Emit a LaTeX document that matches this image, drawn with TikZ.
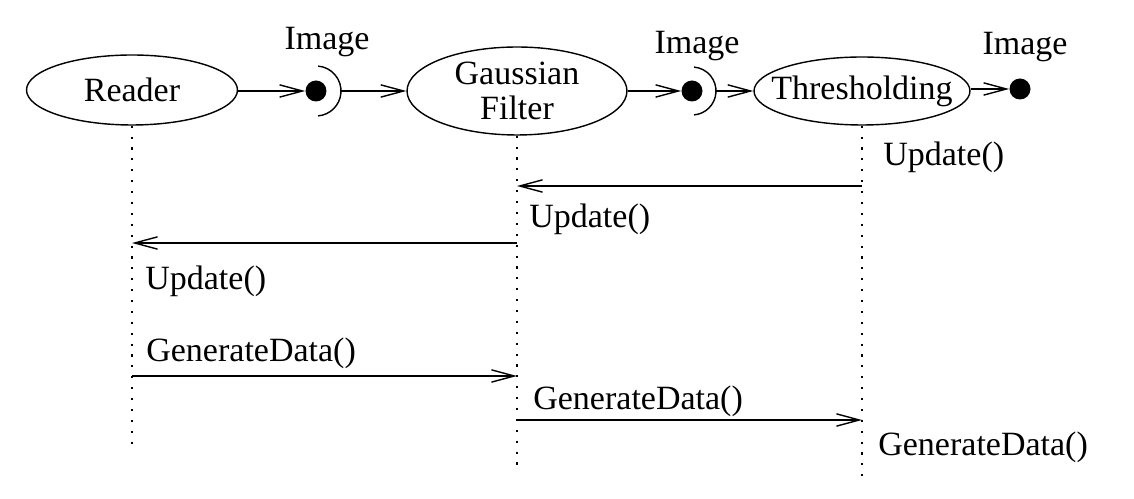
\documentclass[tikz,border=0pt]{standalone}
\usepackage{fontspec}
\setmainfont{Liberation Serif}
\usetikzlibrary{shapes.geometric,arrows.meta}
\begin{document}
\begin{tikzpicture}[x=0.02cm,y=-0.02cm,
  every node/.style={font=\fontsize{19.35pt}{21.7pt}\selectfont},
  obj/.style={draw,ellipse,line width=0.8pt,inner sep=0pt},
  otext/.style={inner sep=0pt,align=center},
  ball/.style={circle,fill=black,inner sep=0pt,minimum size=0.42cm},
  lbl/.style={anchor=base west,inner sep=0pt},
  ilbl/.style={anchor=base,inner sep=0pt},
  msg/.style={line width=0.8pt,-{Straight Barb[length=13pt,width=7pt,line width=0.8pt]}},
  sock/.style={line width=0.8pt},
  life/.style={line width=1pt,dash pattern=on 1.2pt off 5pt}]
\useasboundingbox (0,0) rectangle (1134,499);
% objects
\node[obj,minimum width=4.22cm,minimum height=1.4cm] (reader) at (132,90) {};
\node[otext] (readerT) at (reader.center) {Reader};
\node[obj,minimum width=4.4cm,minimum height=1.76cm] (gauss) at (517,91) {};
\node[otext] (gaussT) at (gauss.center) {Gaussian\\[-2pt]Filter};
\node[obj,minimum width=4.32cm,minimum height=1.36cm] (thr) at (862,91) {};
\node[otext] (thrT) at (thr.center) {Thresholding};
% balls and sockets
\node[ball] (b1) at (316,91) {};
\node[ball] (b2) at (692,91) {};
\node[ball] (b3) at (1020,89) {};
\draw[sock] (316,91) ++(-85:25) arc[start angle=-85,end angle=85,radius=25];
\draw[sock] (692,91) ++(-85:24) arc[start angle=-85,end angle=85,radius=24];
\coordinate (s1) at (341,91);
\coordinate (s2) at (716,91);
\node[ilbl] (i1) at (327,50) {Image};
\node[ilbl] (i2) at (697,54) {Image};
\node[ilbl] (i3) at (1025,55) {Image};
% data flow
\draw[msg] (reader.east |- b1) -- (b1.west);
\draw[msg] (s1) -- (gauss.west |- s1);
\draw[msg] (gauss.east |- b2) -- (b2.west);
\draw[msg] (s2) -- (thr.west |- s2);
\draw[msg] (thr.east |- b3) -- (b3.west);
% lifelines
\coordinate (rEnd) at (132,447);
\coordinate (gEnd) at (517,468);
\coordinate (tEnd) at (862,480);
\draw[life] (reader.south) -- (rEnd);
\draw[life] (gauss.south) -- (gEnd);
\draw[life] (thr.south) -- (tEnd);
% messages
\coordinate (t1) at (862,186); \coordinate (g1) at (517,186);
\coordinate (g2) at (517,243); \coordinate (r2) at (132,243);
\coordinate (r3) at (132,376); \coordinate (g3) at (517,376);
\coordinate (g4) at (517,420); \coordinate (t4) at (862,420);
\draw[msg] (t1) -- (g1);
\draw[msg] (g2) -- (r2);
\draw[msg] (r3) -- (g3);
\draw[msg] (g4) -- (t4);
\node[lbl] (u1) at (883,166) {Update()};
\node[lbl] (u2) at (529,228) {Update()};
\node[lbl] (u3) at (145,290) {Update()};
\node[lbl] (d1) at (146,362) {GenerateData()};
\node[lbl] (d2) at (533,410) {GenerateData()};
\node[lbl] (d3) at (878,456) {GenerateData()};
\end{tikzpicture}
\end{document}
